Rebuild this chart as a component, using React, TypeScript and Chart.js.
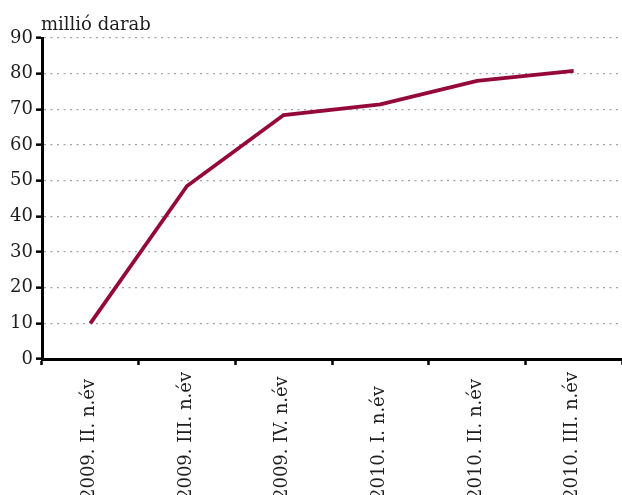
import { useEffect, useRef } from 'react'
import Chart from 'chart.js/auto'

const quarters = ['2009. II. n.év', '2009. III. n.év', '2009. IV. n.év', '2010. I. n.év', '2010. II. n.év', '2010. III. n.év']
const values = [10, 48.5, 68.4, 71.4, 78, 80.8]
const yTicks = [0, 10, 20, 30, 40, 50, 60, 70, 80, 90]
const unitLabel = 'millió darab'

const FONT = '"DejaVu Serif", "Liberation Serif", serif'
const LINE = '#94093a'
const INK = '#1e1e1e'

export default function App() {
  const ref = useRef<HTMLCanvasElement>(null)

  useEffect(() => {
    document.body.style.margin = '0'
    if (!ref.current) return

    // unit label above the y axis, and x labels that start from a common line below the window
    const texts = {
      id: 'texts',
      afterDraw(c: Chart) {
        const { ctx, chartArea } = c
        ctx.save()
        ctx.fillStyle = INK
        ctx.font = '18px ' + FONT
        ctx.textAlign = 'left'
        ctx.textBaseline = 'alphabetic'
        ctx.fillText(unitLabel, chartArea.left - 1, chartArea.top - 8.5)

        const xs = c.scales.x
        const base = chartArea.bottom + 141
        ;(c.data.labels as string[]).forEach((lab, i) => {
          ctx.save()
          ctx.translate(xs.getPixelForValue(i) - 1, base)
          ctx.rotate(-Math.PI / 2)
          ctx.textAlign = 'left'
          ctx.textBaseline = 'middle'
          ctx.fillText(lab, 0, 0)
          ctx.restore()
        })
        ctx.restore()
      },
    }

    const chart = new Chart(ref.current, {
      type: 'line',
      data: {
        labels: quarters,
        datasets: [
          {
            data: values,
            borderColor: LINE,
            borderWidth: 3.8,
            pointRadius: 0,
            tension: 0,
            fill: false,
          },
        ],
      },
      options: {
        responsive: false,
        animation: false,
        layout: { padding: { top: 38, right: 0, left: 0, bottom: 0 } },
        plugins: { legend: { display: false }, tooltip: { enabled: false } },
        scales: {
          x: {
            offset: true,
            grid: { offset: true, drawOnChartArea: false, drawTicks: true, tickLength: 6, tickColor: '#000', tickWidth: 2.5 },
            border: { color: '#000', width: 3 },
            ticks: { display: false, autoSkip: false },
            afterFit: (s: any) => {
              s.height = 136
            },
          },
          y: {
            min: 0,
            max: 90,
            afterBuildTicks: (s: any) => {
              s.ticks = yTicks.map((v) => ({ value: v }))
            },
            grid: {
              color: '#a3a3a3',
              lineWidth: 1.3,
              drawTicks: true,
              tickLength: 6,
              tickColor: '#000',
              tickWidth: 2.5,
              tickBorderDash: [],
            },
            border: { color: '#000', width: 3, dash: [2, 4.5] },
            ticks: { color: INK, font: { family: FONT, size: 18 }, padding: 3 },
            afterFit: (s: any) => {
              s.width = 42
            },
          },
        },
      },
      plugins: [texts],
    })

    return () => chart.destroy()
  }, [])

  return (
    <div style={{ width: 622, height: 495, background: '#fff', overflow: 'hidden' }}>
      <canvas ref={ref} width={622} height={495} style={{ display: 'block', width: 622, height: 495 }} />
    </div>
  )
}
